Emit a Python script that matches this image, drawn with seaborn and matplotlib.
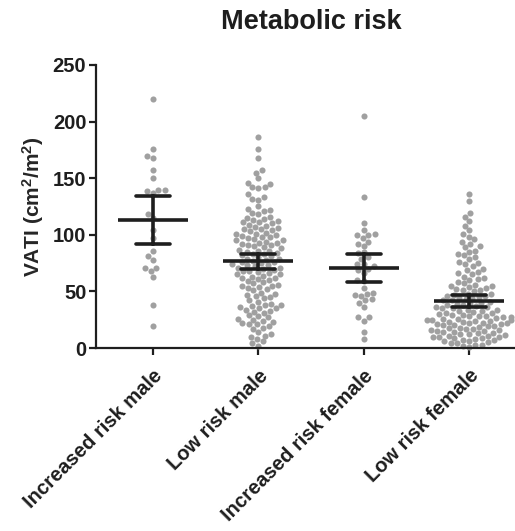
import numpy as np
import pandas as pd
import matplotlib
matplotlib.use("Agg")
import matplotlib.pyplot as plt
import seaborn as sns

categories = ["Increased risk male", "Low risk male", "Increased risk female", "Low risk female"]

increased_risk_male = [220, 176, 170, 168, 157, 150, 140, 140, 139, 137, 115, 118, 104, 97,
                       86, 78, 81, 71, 68, 71, 63, 38, 19]

low_risk_male = [186, 176, 168, 157, 155, 150, 146, 145, 142, 142, 141, 136, 133, 132, 131,
                 125, 123, 122, 121, 119, 118,
                 116, 115, 114, 113, 112, 111, 111, 110,
                 109, 108, 107, 106, 105, 105, 104, 103, 102, 101, 101, 100,
                 99, 98, 98, 97, 96, 95, 95, 94, 93, 93, 92, 91, 91, 90,
                 89, 88, 87, 86, 86, 85, 84, 83, 83, 82, 81, 80,
                 79, 79, 78, 77, 76, 76, 75, 74, 73, 73, 72, 71, 71, 70,
                 69, 68, 68, 67, 66, 65, 65, 64, 63, 62, 62, 61, 60,
                 59, 58, 57, 56, 55, 55, 54, 53, 52, 51,
                 49, 48, 47, 46, 45, 44, 42, 41,
                 39, 38, 38, 37, 36, 35, 35, 34, 33, 32, 31,
                 29, 28, 27, 26, 25, 24, 23, 22, 21, 21,
                 19, 18, 17, 14, 12, 11, 10,
                 8, 6, 4, 2]

increased_risk_female = [205, 133, 110, 104, 99.5, 100.4, 100, 97, 94, 92, 90, 83.6, 84.5, 80,
                         79, 74.5, 74, 72, 70, 69, 66, 60, 59, 53, 49, 48, 47, 46, 42, 43,
                         40, 36, 27, 27, 24, 14.4, 8]

low_risk_female = [136, 130, 119, 116, 112, 108, 104, 101,
                   98, 96, 94, 92, 90,
                   89, 86, 85, 83, 82, 80,
                   79, 76, 75, 74, 72, 70,
                   69, 67, 66, 65, 63, 62, 61, 60,
                   58, 57, 56, 55, 55, 54, 53, 52, 51, 51, 50,
                   48, 48, 47, 46, 46, 45, 44, 44, 43, 42, 42, 41, 40,
                   39, 39, 38, 38, 37, 36, 36, 35, 35, 34, 34, 33, 33, 32, 31, 31, 30,
                   29, 29, 28.5, 28, 28, 27, 27, 26.5, 26, 26, 25, 25, 24.5, 24, 24, 23, 23,
                   22.5, 22, 22, 21, 21, 20.5, 20,
                   19.5, 19, 18.5, 18, 17.5, 17, 16.5, 16, 15.5, 15, 15, 14.5, 14, 13.5, 13,
                   12.5, 12, 11.5, 11, 10.5, 10, 10,
                   9.5, 9, 8.5, 8, 7.5, 7, 6.5, 6, 5, 4.5, 4, 3, 2.5, 2, 1]

y_ticks = [0, 50, 100, 150, 200, 250]
title = "Metabolic risk"
y_label = "VATI (cm$^{2}$/m$^{2}$)"

sns.set_theme(style="ticks")
plt.rcParams["font.family"] = ["Liberation Sans", "DejaVu Sans"]
plt.rcParams["mathtext.fontset"] = "custom"
plt.rcParams["mathtext.rm"] = "Liberation Sans:bold"
plt.rcParams["mathtext.it"] = "Liberation Sans:bold"
plt.rcParams["mathtext.bf"] = "Liberation Sans:bold"
plt.rcParams["mathtext.default"] = "rm"

groups = [increased_risk_male, low_risk_male, increased_risk_female, low_risk_female]
df = pd.DataFrame({
    "group": np.repeat(categories, [len(g) for g in groups]),
    "vati": np.concatenate([np.asarray(g, dtype=float) for g in groups]),
})


def ci95(v):
    v = np.asarray(v, dtype=float)
    n = len(v)
    m = v.mean()
    se = v.std(ddof=1) / np.sqrt(n)
    t = 1.96 + 2.5 / (n - 1)
    return m - t * se, m + t * se


fig = plt.figure(figsize=(5.15, 5.31), dpi=100)
ax = fig.add_axes([96 / 515, 1 - 348 / 531, 1 - 96 / 515 - 0.001, (348 - 65) / 531])

sns.swarmplot(data=df, x="group", y="vati", order=categories, color="#a0a0a0",
              size=4.4, linewidth=0, ax=ax, clip_on=False, zorder=1, warn_thresh=1.0)
sns.pointplot(data=df, x="group", y="vati", order=categories, estimator="mean",
              errorbar=ci95, color="#1e1e1e", marker="_", markersize=50,
              markeredgewidth=2.6, linestyle="none", capsize=0.32,
              err_kws={"linewidth": 2.6}, ax=ax)

ax.set_xlim(-0.54, 3.43)
ax.set_ylim(0, 250)
ax.set_yticks(y_ticks)
ax.set_xlabel("")
ax.set_ylabel(y_label, fontsize=15, fontweight="bold", labelpad=5)
for s in ["top", "right"]:
    ax.spines[s].set_visible(False)
for s in ["left", "bottom"]:
    ax.spines[s].set_linewidth(1.6)
    ax.spines[s].set_color("#1e1e1e")
ax.tick_params(direction="out", length=5, width=1.6, colors="#1e1e1e", labelsize=14.5, pad=2)
ax.tick_params(axis="x", pad=8)
for lab in ax.get_yticklabels():
    lab.set_fontweight("bold")
ax.set_xticks(range(len(categories)))
ax.set_xticklabels(categories, rotation=45, ha="right", rotation_mode="anchor",
                   fontweight="bold", fontsize=14.5)

fig.text(311 / 515, 1 - 22 / 531, title, ha="center", va="center",
         fontsize=19.5, fontweight="bold", color="#1e1e1e")

fig.savefig("out.png", dpi=100)
